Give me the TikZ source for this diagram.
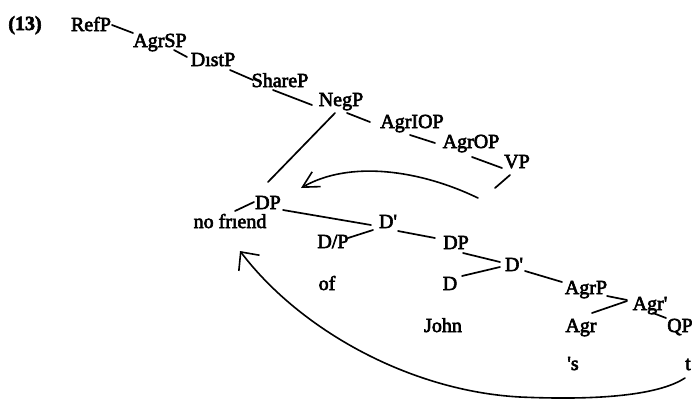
\documentclass[tikz,border=0pt]{standalone}
\usepackage{fontspec}
\setmainfont{Liberation Serif}[FakeBold=3]
\usetikzlibrary{arrows.meta}
\begin{document}
\begin{tikzpicture}[x=1pt,y=-1pt,
  lab/.style={anchor=base, inner sep=0pt, font=\fontsize{20}{24}\selectfont},
  br/.style={line width=1.7pt, line cap=round},
  mv/.style={line width=1.6pt, line cap=round}]
\useasboundingbox (0,0) rectangle (692,400);
\node[lab, font=\fontsize{20}{24}\selectfont\bfseries] (num) at (25,30) {(13)};
\node[lab] (refp) at (91,31) {RefP};
\node[lab] (agrsp) at (160,47) {AgrSP};
\node[lab] (distp) at (213,66) {DıstP};
\node[lab] (sharep) at (280,87) {ShareP};
\node[lab] (negp) at (341,106) {NegP};
\node[lab] (agriop) at (412,128) {AgrIOP};
\node[lab] (agrop) at (471,148) {AgrOP};
\node[lab] (vp) at (517,168) {VP};
\node[lab] (dp) at (268,209) {DP};
\node[lab] (nofriend) at (230,228) {no frıend};
\node[lab] (dbar) at (388,228) {D\textquotesingle};
\node[lab] (dslashp) at (333,248) {D/P};
\node[lab] (dp2) at (456,249) {DP};
\node[lab] (d) at (450,290) {D};
\node[lab] (dbar2) at (514,271) {D\textquotesingle};
\node[lab] (agrp) at (586,294) {AgrP};
\node[lab] (agrbar) at (650,310) {Agr\textquotesingle};
\node[lab] (agr) at (581,332) {Agr};
\node[lab] (qp) at (680,332) {QP};
\node[lab] (john) at (443,332) {John};
\node[lab] (of) at (327,290) {of};
\node[lab] (s) at (573,370) {\textquotesingle s};
\node[lab] (t) at (688,370) {t};
\coordinate (vpend) at (495,188);
\coordinate (mvAstart) at (478,198);
\coordinate (mvAend) at (301,188);
\coordinate (mvBstart) at (685,378);
\coordinate (mvBmid) at (520,397);
\coordinate (mvBend) at (240,251);
% tree branches
\draw[br] ([shift={(21,-6)}]refp.base) -- ([shift={(-27,-14)}]agrsp.base);
\draw[br] ([shift={(14,3)}]agrsp.base) -- ([shift={(-26,-9)}]distp.base);
\draw[br] ([shift={(17,4)}]distp.base) -- ([shift={(-27,-7)}]sharep.base);
\draw[br] ([shift={(-7,3)}]sharep.base) -- ([shift={(-29,-1)}]negp.base);
\draw[br] ([shift={(6,7)}]negp.base) -- ([shift={(-42,-6)}]agriop.base);
\draw[br] ([shift={(-2,7)}]agriop.base) -- ([shift={(-36,-5)}]agrop.base);
\draw[br] ([shift={(1,9)}]agrop.base) -- ([shift={(-15,0)}]vp.base);
\draw[br] ([shift={(-7,7)}]vp.base) -- (vpend);
\draw[br] ([shift={(-6,7)}]negp.base) -- ([shift={(0,-27)}]dp.base);
\draw[br] ([shift={(-14,-7)}]dp.base) -- ([shift={(5,-17)}]nofriend.base);
\draw[br] ([shift={(15,1)}]dp.base) -- ([shift={(-17,-3)}]dbar.base);
\draw[br] ([shift={(-15,2)}]dbar.base) -- ([shift={(15,-10)}]dslashp.base);
\draw[br] ([shift={(10,3)}]dbar.base) -- ([shift={(-21,-11)}]dp2.base);
\draw[br] ([shift={(7,4)}]dp2.base) -- ([shift={(-14,-9)}]dbar2.base);
\draw[br] ([shift={(12,-14)}]d.base) -- ([shift={(-14,-4)}]dbar2.base);
\draw[br] ([shift={(11,0)}]dbar2.base) -- ([shift={(-24,-12)}]agrp.base);
\draw[br] ([shift={(21,2)}]agrp.base) -- ([shift={(-23,-10)}]agrbar.base);
\draw[br] ([shift={(11,-19)}]agr.base) -- ([shift={(-23,-9)}]agrbar.base);
\draw[br] ([shift={(3,3)}]agrbar.base) -- ([shift={(-14,-14)}]qp.base);
% movement arrows
\draw[mv, -{Straight Barb[length=16pt,width=17pt,line width=1.6pt]}]
  (mvAstart) .. controls (420,170) and (350,160) .. (mvAend);
\draw[mv, -{Straight Barb[length=14pt,width=26pt,line width=1.6pt]}]
  (mvBstart) .. controls (662,393) and (610,401) .. (mvBmid)
  .. controls (410,391) and (300,330) .. (mvBend);
\end{tikzpicture}
\end{document}
